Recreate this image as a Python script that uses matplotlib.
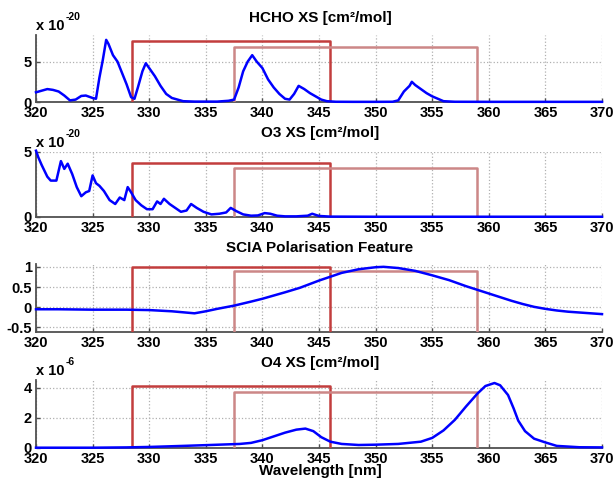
import numpy as np
import matplotlib
matplotlib.use('Agg')
import matplotlib.pyplot as plt

plt.rcParams['font.family'] = ['Liberation Sans', 'DejaVu Sans']
plt.rcParams['font.weight'] = 'bold'
plt.rcParams['font.size'] = 10.5

# fit windows [nm]
win1 = (328.5, 346.0)
win2 = (337.5, 359.0)

# HCHO cross section, x 1e-20
hcho_wl = [320, 320.5, 321, 321.5, 322, 322.5, 323, 323.5, 324, 324.4, 325, 325.3, 325.6, 325.9,
           326.2, 326.4, 326.8, 327.2, 327.6, 328.0, 328.4, 328.7, 329.0, 329.4, 329.7, 330.0,
           330.5, 331.0, 331.5, 332.0, 332.5, 333, 334, 335, 336, 337, 337.5, 337.9, 338.3,
           338.7, 339.1, 339.5, 340.0, 340.5, 341.0, 341.5, 342.0, 342.4, 342.8, 343.2, 343.7,
           344.2, 344.7, 345.2, 345.7, 346.5, 348, 350, 351.5, 352.0, 352.5, 353.0, 353.2,
           353.5, 354.0, 354.5, 355.0, 355.5, 356.0, 357, 360, 365, 370]
hcho_xs = [1.2, 1.4, 1.6, 1.5, 1.3, 0.8, 0.2, 0.3, 0.75, 0.8, 0.5, 0.4, 3.0, 5.2,
           7.7, 7.2, 5.8, 5.0, 3.6, 2.2, 0.6, 0.4, 1.8, 3.8, 4.8, 4.2,
           3.2, 2.0, 1.0, 0.5, 0.3, 0.1, 0.05, 0.05, 0.05, 0.15, 0.3, 1.8, 3.8,
           5.0, 5.8, 5.0, 4.2, 2.8, 1.8, 1.0, 0.4, 0.3, 1.0, 2.0, 1.6,
           1.1, 0.7, 0.3, 0.1, 0.03, 0.02, 0.02, 0.03, 0.2, 1.3, 2.0, 2.5,
           2.1, 1.6, 1.1, 0.7, 0.4, 0.1, 0.03, 0.02, 0.02, 0.02]

# O3 cross section, x 1e-20
o3_wl = [320, 320.2, 320.5, 321.0, 321.3, 321.8, 322.2, 322.5, 322.8, 323.2, 323.6, 324.0,
         324.4, 324.7, 325.0, 325.3, 325.6, 326.0, 326.5, 327.0, 327.4, 327.8, 328.1, 328.4,
         328.8, 329.3, 329.8, 330.3, 330.7, 331.0, 331.3, 331.8, 332.3, 332.8, 333.3, 333.7,
         334.2, 334.8, 335.5, 336.2, 336.8, 337.2, 337.7, 338.3, 339.0, 339.6, 340.2, 340.7,
         341.3, 342, 343, 344, 344.4, 345, 346, 350, 355, 360, 365, 370]
o3_xs = [5.1, 4.6, 4.0, 3.1, 2.8, 2.8, 4.3, 3.7, 4.1, 3.3, 2.3, 1.6,
         1.9, 2.0, 3.2, 2.6, 2.4, 2.0, 1.3, 1.0, 1.5, 1.3, 2.3, 1.9,
         1.3, 0.9, 0.6, 0.6, 1.2, 1.0, 1.4, 1.0, 0.7, 0.4, 0.5, 1.0,
         0.7, 0.4, 0.2, 0.25, 0.35, 0.7, 0.45, 0.2, 0.1, 0.12, 0.3, 0.25,
         0.1, 0.05, 0.05, 0.1, 0.25, 0.08, 0.03, 0.02, 0.02, 0.02, 0.02, 0.02]

# SCIA polarisation feature
pol_wl = [320, 322, 325, 328, 330, 332, 334, 335, 336, 337.5, 339, 340, 341, 342, 343.3, 345,
          347, 348.5, 350, 350.7, 352, 353.5, 355, 356.5, 358, 359, 360, 361, 362, 363, 364,
          365, 366, 367, 368, 369, 370]
pol_val = [-0.05, -0.05, -0.06, -0.06, -0.07, -0.1, -0.15, -0.1, -0.04, 0.04, 0.14, 0.21, 0.29,
           0.37, 0.48, 0.66, 0.85, 0.94, 0.99, 1.0, 0.97, 0.9, 0.79, 0.67, 0.52, 0.43, 0.34,
           0.25, 0.16, 0.08, 0.01, -0.04, -0.08, -0.11, -0.13, -0.15, -0.17]

# O4 cross section, x 1e-6
o4_wl = [320, 325, 328, 330, 333, 335, 338, 339, 340, 341, 342, 343, 343.8, 344.5, 345.2,
         346, 347, 348.5, 350, 352, 354, 355, 356, 357, 358, 359, 359.7, 360.5, 361.0, 361.7,
         362.2, 362.6, 363.2, 364, 365, 366, 368, 370]
o4_xs = [0.0, 0.0, 0.02, 0.05, 0.12, 0.17, 0.25, 0.32, 0.5, 0.75, 1.0, 1.2, 1.27, 1.1, 0.7,
         0.4, 0.25, 0.18, 0.2, 0.25, 0.4, 0.65, 1.15, 1.85, 2.75, 3.6, 4.1, 4.3, 4.15, 3.5,
         2.6, 1.8, 1.1, 0.6, 0.35, 0.12, 0.03, 0.02]

panels = [
    (hcho_wl, hcho_xs, 'HCHO XS [cm²/mol]', (0, 8.3), [0, 5], ['0', '5'], 7.5, 6.85, '-20'),
    (o3_wl, o3_xs, 'O3 XS [cm²/mol]', (0, 5), [0, 5], ['0', '5'], 4.15, 3.8, '-20'),
    (pol_wl, pol_val, 'SCIA Polarisation Feature', (-0.6, 1.07), [-0.5, 0, 0.5, 1],
     ['-0.5', '0', '0.5', '1'], 1.0, 0.89, None),
    (o4_wl, o4_xs, 'O4 XS [cm²/mol]', (0, 4.5), [0, 2, 4], ['0', '2', '4'], 4.12, 3.72, '-6'),
]

W, H = 616, 479
fig = plt.figure(figsize=(W / 100, H / 100), dpi=100)
tops = [35, 152, 264, 380]
bottoms = [102, 217, 331.5, 447.7]
title_y = [18, 133, 248, 363]
left, right = 36, 602
red = (0.76, 0.24, 0.24)
pink = (0.80, 0.53, 0.53)

for k, (wl, val, title, ylim, yt, ytl, h1, h2, expo) in enumerate(panels):
    ax = fig.add_axes([left / W, 1 - bottoms[k] / H, (right - left) / W, (bottoms[k] - tops[k]) / H])
    ax.set_xlim(320, 370)
    ax.set_ylim(*ylim)
    ax.grid(True, linestyle=':', color='#b0b0b0', linewidth=0.9)
    ax.set_axisbelow(True)
    for s in ['top', 'right']:
        ax.spines[s].set_visible(False)
    for s in ['left', 'bottom']:
        ax.spines[s].set_color('#505050')
        ax.spines[s].set_linewidth(1.3)
    ax.tick_params(direction='in', length=3, width=1, color='#505050', labelsize=10.5, pad=3)
    ax.set_xticks(np.arange(320, 371, 5))
    ax.set_yticks(yt)
    ax.set_yticklabels(ytl)
    for lab in ax.get_xticklabels() + ax.get_yticklabels():
        lab.set_fontweight('bold')

    ybot = ylim[0]
    ax.plot([win1[0], win1[0], win1[1], win1[1]], [ybot, h1, h1, ybot], color=red, lw=1.8, zorder=3)
    ax.plot([win2[0], win2[0], win2[1], win2[1]], [ybot, h2, h2, ybot], color=pink, lw=1.8, zorder=3)
    ax.plot(wl, val, color='blue', lw=1.8, zorder=4, clip_on=False)

    fig.text(320 / W, 1 - title_y[k] / H, title, ha='center', va='center',
             fontsize=11, fontweight='bold')
    if expo:
        ey = tops[k] - 9
        fig.text(36 / W, 1 - ey / H, 'x 10', ha='left', va='center', fontsize=10.5, fontweight='bold')
        fig.text(66 / W, 1 - (ey - 9) / H, expo, ha='left', va='center', fontsize=7.5, fontweight='bold')

fig.text(320 / W, 1 - 471 / H, 'Wavelength [nm]', ha='center', va='center',
         fontsize=11, fontweight='bold')

fig.savefig('out.png', dpi=100)
